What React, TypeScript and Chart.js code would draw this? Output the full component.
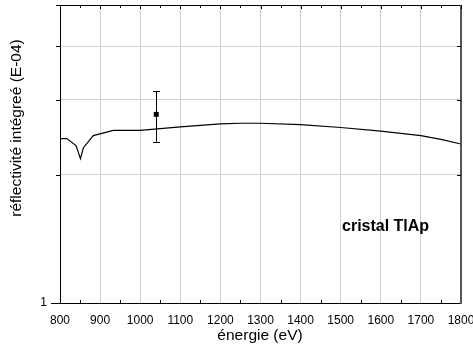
import React, { useEffect, useRef } from "react";
import { Chart, registerables } from "chart.js";

Chart.register(...registerables);

const energies = [800, 817, 840, 851, 858, 883, 933, 1000, 1100, 1200, 1250, 1300, 1400, 1500, 1600, 1650, 1700, 1750, 1800];
const reflectivity = [2.43, 2.43, 2.34, 2.18, 2.31, 2.47, 2.54, 2.54, 2.59, 2.63, 2.64, 2.64, 2.62, 2.58, 2.53, 2.50, 2.47, 2.42, 2.36];

const measuredEnergy = [1040];
const measuredValue = [2.77];
const measuredLow = [2.39];
const measuredHigh = [3.14];

const xTicks = [800, 900, 1000, 1100, 1200, 1300, 1400, 1500, 1600, 1700, 1800];
const yTicks = [1, 2, 3, 4, 5];
const yLabels = ["1", "", "", "", ""];

const xTitle = "énergie (eV)";
const yTitle = "réflectivité intégreé (E-04)";
const legendText = "cristal TlAp";

const FONT = "'Liberation Sans', Arial, sans-serif";

export default function App() {
  const ref = useRef<HTMLCanvasElement | null>(null);

  useEffect(() => {
    const canvas = ref.current;
    if (!canvas) return;

    const overlay = {
      id: "overlay",
      afterDatasetsDraw(chart: any) {
        const ctx = chart.ctx;
        const xs = chart.scales.x;
        const ys = chart.scales.y;
        const a = chart.chartArea;
        ctx.save();
        // error bars
        ctx.strokeStyle = "#000";
        ctx.lineWidth = 1;
        measuredEnergy.forEach((e, i) => {
          const px = Math.round(xs.getPixelForValue(e)) + 0.5;
          const top = ys.getPixelForValue(measuredHigh[i]);
          const bot = ys.getPixelForValue(measuredLow[i]);
          ctx.beginPath();
          ctx.moveTo(px, top);
          ctx.lineTo(px, bot);
          ctx.moveTo(px - 3.5, Math.round(top) + 0.5);
          ctx.lineTo(px + 3.5, Math.round(top) + 0.5);
          ctx.moveTo(px - 3.5, Math.round(bot) + 0.5);
          ctx.lineTo(px + 3.5, Math.round(bot) + 0.5);
          ctx.stroke();
        });
        // frame
        ctx.strokeStyle = "#000";
        ctx.lineWidth = 1;
        ctx.beginPath();
        ctx.moveTo(a.left + 0.5, a.top);
        ctx.lineTo(a.left + 0.5, a.bottom + 0.5);
        ctx.lineTo(a.right, a.bottom + 0.5);
        ctx.moveTo(a.left, a.top + 0.5);
        ctx.lineTo(a.right, a.top + 0.5);
        ctx.stroke();
        ctx.strokeStyle = "#555";
        ctx.lineWidth = 2;
        ctx.beginPath();
        ctx.moveTo(a.right, a.top);
        ctx.lineTo(a.right, a.bottom + 1);
        ctx.stroke();
        // x ticks (inward, top and bottom)
        ctx.strokeStyle = "#000";
        ctx.lineWidth = 1;
        ctx.beginPath();
        for (let v = 800; v <= 1800; v += 50) {
          const px = Math.round(xs.getPixelForValue(v)) + 0.5;
          const major = v % 100 === 0;
          ctx.moveTo(px, a.top);
          ctx.lineTo(px, a.top + (major ? 4 : 3));
          if (!major) {
            ctx.moveTo(px, a.bottom);
            ctx.lineTo(px, a.bottom - 3);
          }
        }
        // y ticks
        yTicks.forEach((v, i) => {
          const py = Math.round(ys.getPixelForValue(v)) + 0.5;
          ctx.moveTo(a.left - (i === 0 ? 9 : 4), py);
          ctx.lineTo(a.left, py);
          if (i > 0 && i < yTicks.length - 1) {
            ctx.moveTo(a.right - 4, py);
            ctx.lineTo(a.right, py);
          }
        });
        ctx.stroke();
        // titles
        ctx.fillStyle = "#000";
        ctx.font = `15.5px ${FONT}`;
        ctx.textAlign = "center";
        ctx.textBaseline = "middle";
        ctx.fillText(xTitle, 260, 336);
        ctx.save();
        ctx.translate(17, 128);
        ctx.rotate(-Math.PI / 2);
        ctx.fillText(yTitle, 0, 0);
        ctx.restore();
        // legend text
        ctx.font = `bold 16px ${FONT}`;
        ctx.textAlign = "left";
        ctx.textBaseline = "alphabetic";
        ctx.fillText(legendText, 342, 230.5);
        ctx.restore();
      },
    };

    const chart = new Chart(canvas, {
      type: "line",
      data: {
        datasets: [
          {
            data: energies.map((x, i) => ({ x, y: reflectivity[i] })),
            borderColor: "#000",
            borderWidth: 1.2,
            pointRadius: 0,
            tension: 0,
            fill: false,
          },
          {
            type: "scatter",
            data: measuredEnergy.map((x, i) => ({ x, y: measuredValue[i] })),
            pointStyle: "rect",
            pointRadius: 3.5,
            backgroundColor: "#000",
            borderColor: "#000",
            borderWidth: 0,
          } as any,
        ],
      },
      options: {
        animation: false,
        responsive: false,
        maintainAspectRatio: false,
        layout: { padding: { top: 5, right: 12, left: 0, bottom: 0 } },
        plugins: { legend: { display: false }, tooltip: { enabled: false } },
        scales: {
          x: {
            type: "linear",
            min: 800,
            max: 1800,
            afterBuildTicks: (s: any) => {
              s.ticks = xTicks.map((v) => ({ value: v }));
            },
            afterFit: (s: any) => {
              s.height = 50;
              s.paddingLeft = 0;
              s.paddingRight = 0;
            },
            ticks: {
              font: { family: FONT, size: 12 },
              color: "#000",
              padding: 10,
              maxRotation: 0,
              autoSkip: false,
              callback: (v: any) => String(v),
            },
            grid: { color: "#d0d0d0", drawTicks: false, lineWidth: 1 },
            border: { display: false },
          },
          y: {
            type: "logarithmic",
            min: 1,
            max: 5,
            afterBuildTicks: (s: any) => {
              s.ticks = yTicks.map((v) => ({ value: v }));
            },
            afterFit: (s: any) => {
              s.width = 60;
              s.paddingTop = 0;
              s.paddingBottom = 0;
            },
            ticks: {
              font: { family: FONT, size: 12 },
              color: "#000",
              padding: 13,
              autoSkip: false,
              callback: (_v: any, i: number) => yLabels[i],
            },
            grid: { color: "#d0d0d0", drawTicks: false, lineWidth: 1 },
            border: { display: false },
          },
        },
      },
      plugins: [overlay],
    });

    return () => chart.destroy();
  }, []);

  return (
    <div style={{ position: "absolute", left: 0, top: 0, width: 473, height: 353, background: "#fff" }}>
      <canvas ref={ref} width={473} height={353} style={{ width: 473, height: 353 }} />
    </div>
  );
}
